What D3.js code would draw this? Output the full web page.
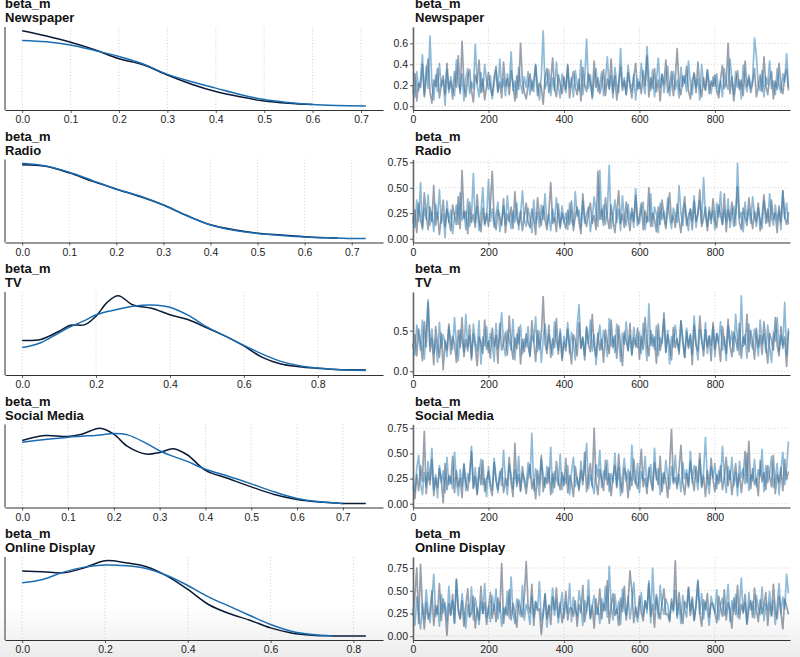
<!DOCTYPE html>
<html>
<head>
<meta charset="utf-8">
<script src="https://cdn.jsdelivr.net/npm/d3@7"></script>
<style>
  body { margin: 0; background: #fff; }
  svg { display: block; font-family: "Liberation Sans", Arial, Helvetica, sans-serif; }
</style>
</head>
<body>
<svg id="chart" width="800" height="657"></svg>
<script>
// --- Data ---

const varName = "beta_m";
const channels = ["Newspaper", "Radio", "TV", "Social Media", "Online Display"];

// KDE per chain (null = curve of that chain has ended)
const newspaperDensityX = [0, 0.05, 0.1, 0.15, 0.2, 0.25, 0.3, 0.35, 0.4, 0.45, 0.5, 0.55, 0.6, 0.65, 0.71];
const newspaperDensity0 = [3.29, 3.06, 2.79, 2.46, 2.07, 1.81, 1.36, 0.96, 0.64, 0.41, 0.23, 0.13, 0.07, null, null];
const newspaperDensity1 = [2.87, 2.81, 2.67, 2.43, 2.17, 1.84, 1.39, 1.07, 0.79, 0.51, 0.29, 0.16, 0.07, 0.03, 0.01];

const radioDensityX = [0, 0.05, 0.1, 0.15, 0.2, 0.25, 0.3, 0.35, 0.4, 0.45, 0.5, 0.55, 0.6, 0.65, 0.67, 0.7, 0.73];
const radioDensity0 = [3.23, 3.16, 2.87, 2.50, 2.16, 1.84, 1.47, 1.01, 0.61, 0.39, 0.24, 0.16, 0.09, 0.04, 0.03, null, null];
const radioDensity1 = [3.29, 3.17, 2.90, 2.53, 2.17, 1.86, 1.47, 1.00, 0.60, 0.37, 0.23, 0.14, 0.07, 0.04, 0.03, 0.01, 0.01];

const tvDensityX = [0, 0.05, 0.1, 0.13, 0.17, 0.2, 0.23, 0.26, 0.3, 0.35, 0.4, 0.45, 0.5, 0.55, 0.6, 0.65, 0.7, 0.75, 0.8, 0.85, 0.93];
const tvDensity0 = [0.94, 0.97, 1.22, 1.40, 1.42, 1.68, 2.10, 2.30, 2.02, 1.92, 1.72, 1.57, 1.32, 1.07, 0.77, 0.42, 0.22, 0.14, 0.09, 0.05, 0.04];
const tvDensity1 = [0.72, 0.87, 1.17, 1.35, 1.55, 1.72, 1.82, 1.89, 1.98, 2.02, 1.95, 1.70, 1.35, 1.07, 0.79, 0.52, 0.30, 0.17, 0.10, 0.05, 0.02];

const socialDensityX = [0, 0.05, 0.1, 0.13, 0.17, 0.2, 0.23, 0.27, 0.3, 0.33, 0.36, 0.4, 0.45, 0.5, 0.55, 0.6, 0.65, 0.7, 0.75];
const socialDensity0 = [1.91, 2.06, 2.03, 2.10, 2.28, 2.10, 1.73, 1.50, 1.55, 1.66, 1.48, 1.01, 0.76, 0.51, 0.28, 0.13, 0.05, 0.01, 0.01];
const socialDensity1 = [1.86, 1.94, 2.01, 2.04, 2.08, 2.12, 2.08, 1.83, 1.60, 1.43, 1.28, 1.04, 0.83, 0.60, 0.36, 0.16, 0.06, 0.01, null];

const onlineDensityX = [0, 0.05, 0.1, 0.15, 0.2, 0.25, 0.3, 0.35, 0.4, 0.45, 0.5, 0.55, 0.6, 0.65, 0.7, 0.75, 0.8, 0.83];
const onlineDensity0 = [1.95, 1.93, 1.90, 2.05, 2.26, 2.20, 2.08, 1.80, 1.40, 0.95, 0.68, 0.48, 0.25, 0.10, 0.03, 0.01, 0.01, 0.01];
const onlineDensity1 = [1.60, 1.70, 1.92, 2.07, 2.13, 2.11, 2.03, 1.82, 1.52, 1.18, 0.90, 0.62, 0.35, 0.15, 0.05, 0.01, null, null];

// Traces: every 5th draw of 1000, two chains
const drawStep = 5;
const nDraws = 1000;

const newspaperTrace0 = [
  0.12,0.31,0.05,0.22,0.18,0.40,0.09,0.27,0.45,0.14,0.03,0.25,0.19,0.36,0.08,0.21,0.29,0.11,0.41,0.16,
  0.24,0.07,0.33,0.18,0.48,0.12,0.62,0.20,0.09,0.27,0.35,0.15,0.04,0.30,0.22,0.44,0.13,0.26,0.06,0.19,
  0.32,0.17,0.10,0.28,0.38,0.14,0.23,0.08,0.42,0.19,0.26,0.11,0.34,0.21,0.05,0.29,0.16,0.60,0.24,0.13,
  0.07,0.20,0.31,0.15,0.25,0.39,0.10,0.22,0.18,0.02,0.27,0.36,0.13,0.23,0.46,0.17,0.09,0.30,0.21,0.12,
  0.28,0.16,0.40,0.08,0.24,0.33,0.19,0.11,0.26,0.05,0.37,0.20,0.14,0.31,0.23,0.09,0.43,0.18,0.27,0.12,
  0.21,0.35,0.10,0.26,0.17,0.45,0.13,0.29,0.06,0.22,0.38,0.15,0.24,0.11,0.32,0.19,0.08,0.28,0.41,0.16,
  0.23,0.12,0.34,0.20,0.48,0.09,0.27,0.17,0.36,0.14,0.25,0.05,0.30,0.21,0.44,0.13,0.19,0.33,0.10,0.26,
  0.55,0.18,0.11,0.29,0.22,0.38,0.15,0.07,0.25,0.31,0.13,0.42,0.20,0.09,0.27,0.16,0.35,0.12,0.24,0.19,
  0.30,0.14,0.08,0.26,0.39,0.17,0.22,0.60,0.12,0.28,0.05,0.21,0.34,0.16,0.25,0.10,0.43,0.19,0.27,0.13,
  0.22,0.36,0.09,0.18,0.30,0.14,0.47,0.20,0.11,0.26,0.33,0.07,0.24,0.16,0.41,0.19,0.12,0.29,0.35,0.15
];
const newspaperTrace1 = [
  0.20,0.09,0.33,0.15,0.26,0.49,0.11,0.38,0.17,0.67,0.22,0.06,0.30,0.14,0.41,0.19,0.25,0.01,0.35,0.13,
  0.28,0.18,0.10,0.44,0.21,0.15,0.31,0.05,0.27,0.36,0.12,0.23,0.17,0.59,0.20,0.09,0.32,0.14,0.40,0.24,
  0.16,0.29,0.07,0.22,0.34,0.13,0.45,0.18,0.26,0.10,0.31,0.19,0.52,0.15,0.24,0.08,0.37,0.21,0.12,0.28,
  0.18,0.33,0.11,0.25,0.14,0.40,0.20,0.06,0.29,0.72,0.17,0.23,0.35,0.10,0.27,0.15,0.42,0.19,0.08,0.31,
  0.22,0.13,0.38,0.18,0.27,0.09,0.34,0.21,0.15,0.44,0.11,0.26,0.64,0.17,0.30,0.07,0.24,0.36,0.14,0.20,
  0.33,0.10,0.25,0.47,0.16,0.29,0.08,0.37,0.21,0.13,0.55,0.19,0.27,0.11,0.39,0.23,0.15,0.30,0.06,0.26,
  0.17,0.41,0.22,0.12,0.57,0.28,0.15,0.35,0.09,0.24,0.46,0.18,0.31,0.13,0.26,0.38,0.10,0.21,0.33,0.16,
  0.25,0.08,0.37,0.19,0.29,0.14,0.43,0.22,0.11,0.32,0.18,0.26,0.06,0.40,0.20,0.15,0.34,0.23,0.12,0.28,
  0.19,0.31,0.13,0.24,0.09,0.36,0.21,0.16,0.45,0.27,0.11,0.33,0.18,0.25,0.07,0.39,0.22,0.14,0.30,0.17,
  0.26,0.65,0.48,0.20,0.15,0.34,0.09,0.28,0.21,0.43,0.17,0.24,0.11,0.36,0.19,0.13,0.31,0.23,0.50,0.18
];

const radioTrace0 = [
  0.15,0.28,0.06,0.35,0.19,0.11,0.45,0.24,0.09,0.31,0.17,0.52,0.13,0.26,0.04,0.21,0.38,0.12,0.29,0.18,
  0.08,0.33,0.22,0.14,0.41,0.10,0.67,0.20,0.27,0.05,0.36,0.16,0.24,0.11,0.43,0.19,0.07,0.30,0.15,0.25,
  0.12,0.34,0.66,0.18,0.09,0.28,0.21,0.13,0.39,0.06,0.24,0.17,0.31,0.10,0.46,0.20,0.14,0.27,0.08,0.22,
  0.35,0.16,0.11,0.29,0.19,0.04,0.40,0.23,0.13,0.32,0.18,0.09,0.26,0.55,0.15,0.21,0.07,0.34,0.12,0.25,
  0.17,0.10,0.28,0.14,0.37,0.08,0.22,0.31,0.16,0.05,0.44,0.20,0.12,0.27,0.35,0.15,0.23,0.09,0.66,0.19,
  0.29,0.13,0.40,0.21,0.10,0.33,0.18,0.06,0.26,0.47,0.15,0.24,0.11,0.36,0.20,0.08,0.30,0.17,0.42,0.13,
  0.22,0.35,0.09,0.27,0.16,0.50,0.12,0.25,0.19,0.07,0.31,0.14,0.38,0.21,0.10,0.28,0.45,0.16,0.23,0.11,
  0.34,0.18,0.06,0.26,0.41,0.13,0.22,0.29,0.09,0.37,0.17,0.24,0.48,0.12,0.20,0.31,0.08,0.27,0.15,0.39,
  0.19,0.11,0.33,0.23,0.14,0.44,0.07,0.28,0.18,0.36,0.12,0.25,0.51,0.16,0.09,0.30,0.21,0.13,0.40,0.24,
  0.10,0.27,0.17,0.35,0.08,0.22,0.43,0.15,0.29,0.12,0.38,0.19,0.25,0.06,0.32,0.16,0.47,0.21,0.14,0.26
];
const radioTrace1 = [
  0.22,0.11,0.38,0.17,0.55,0.09,0.30,0.19,0.43,0.13,0.26,0.07,0.34,0.20,0.48,0.15,0.24,0.01,0.37,0.16,
  0.28,0.05,0.21,0.33,0.14,0.45,0.18,0.27,0.09,0.39,0.12,0.23,0.64,0.16,0.31,0.08,0.25,0.50,0.13,0.20,
  0.58,0.17,0.29,0.11,0.24,0.36,0.07,0.19,0.32,0.14,0.42,0.21,0.10,0.27,0.16,0.35,0.09,0.23,0.47,0.18,
  0.12,0.30,0.20,0.06,0.38,0.15,0.26,0.11,0.33,0.19,0.44,0.14,0.24,0.08,0.29,0.17,0.40,0.21,0.10,0.32,
  0.16,0.25,0.09,0.35,0.18,0.13,0.46,0.22,0.28,0.11,0.37,0.15,0.24,0.31,0.07,0.20,0.41,0.26,0.12,0.67,
  0.19,0.33,0.14,0.27,0.72,0.10,0.23,0.38,0.16,0.29,0.08,0.42,0.21,0.13,0.34,0.18,0.26,0.11,0.49,0.20,
  0.15,0.28,0.36,0.09,0.22,0.17,0.44,0.12,0.31,0.24,0.06,0.35,0.19,0.27,0.14,0.40,0.21,0.10,0.30,0.23,
  0.16,0.52,0.25,0.13,0.34,0.20,0.08,0.29,0.18,0.42,0.11,0.26,0.37,0.15,0.60,0.22,0.12,0.31,0.19,0.27,
  0.09,0.35,0.21,0.46,0.14,0.28,0.17,0.39,0.11,0.24,0.32,0.13,0.74,0.20,0.26,0.07,0.36,0.18,0.29,0.15,
  0.41,0.23,0.12,0.30,0.19,0.10,0.37,0.25,0.16,0.44,0.21,0.13,0.33,0.18,0.27,0.09,0.47,0.20,0.35,0.14
];

const tvTrace0 = [
  0.28,0.45,0.19,0.52,0.36,0.13,0.61,0.30,0.85,0.24,0.41,0.08,0.55,0.33,0.17,0.47,0.02,0.38,0.26,0.58,
  0.21,0.43,0.34,0.11,0.50,0.29,0.66,0.18,0.39,0.25,0.57,0.14,0.46,0.31,0.07,0.42,0.35,0.22,0.63,0.27,
  0.37,0.16,0.53,0.30,0.44,0.10,0.59,0.26,0.35,0.48,0.20,0.68,0.33,0.15,0.41,0.28,0.54,0.09,0.39,0.24,
  0.46,0.31,0.19,0.62,0.37,0.12,0.50,0.27,0.43,0.92,0.34,0.22,0.57,0.17,0.40,0.29,0.65,0.21,0.48,0.13,
  0.36,0.25,0.52,0.30,0.09,0.45,0.38,0.19,0.60,0.28,0.42,0.14,0.55,0.33,0.24,0.70,0.31,0.18,0.47,0.26,
  0.39,0.11,0.51,0.34,0.22,0.63,0.29,0.44,0.16,0.56,0.32,0.07,0.48,0.37,0.25,0.59,0.20,0.41,0.30,0.53,
  0.15,0.43,0.27,0.66,0.35,0.19,0.50,0.31,0.42,0.10,0.58,0.26,0.37,0.72,0.23,0.45,0.33,0.14,0.54,0.29,
  0.40,0.21,0.62,0.35,0.17,0.49,0.28,0.44,0.08,0.57,0.32,0.25,0.68,0.38,0.19,0.51,0.30,0.43,0.13,0.60,
  0.27,0.46,0.34,0.12,0.55,0.37,0.22,0.64,0.31,0.18,0.48,0.39,0.26,0.59,0.16,0.42,0.33,0.70,0.24,0.50,
  0.36,0.15,0.53,0.29,0.44,0.21,0.61,0.34,0.10,0.47,0.38,0.26,0.66,0.32,0.19,0.55,0.28,0.42,0.06,0.49
];
const tvTrace1 = [
  0.34,0.20,0.57,0.41,0.26,0.63,0.15,0.48,0.88,0.31,0.52,0.22,0.39,0.11,0.60,0.29,0.45,0.35,0.18,0.54,
  0.40,0.27,0.66,0.33,0.13,0.51,0.37,0.24,0.70,0.30,0.44,0.17,0.58,0.36,0.25,0.62,0.09,0.42,0.31,0.55,
  0.23,0.47,0.35,0.12,0.59,0.28,0.43,0.72,0.32,0.19,0.50,0.38,0.26,0.64,0.14,0.46,0.34,0.57,0.21,0.40,
  0.30,0.55,0.18,0.44,0.36,0.67,0.24,0.49,0.11,0.39,0.58,0.27,0.45,0.33,0.20,0.61,0.37,0.26,0.52,0.16,
  0.43,0.31,0.60,0.22,0.48,0.35,0.14,0.56,0.82,0.29,0.41,0.19,0.53,0.34,0.63,0.25,0.45,0.08,0.38,0.57,
  0.27,0.50,0.36,0.18,0.65,0.31,0.42,0.23,0.58,0.37,0.12,0.47,0.33,0.61,0.26,0.44,0.20,0.54,0.35,0.29,
  0.48,0.22,0.59,0.38,0.13,0.83,0.32,0.45,0.27,0.56,0.19,0.41,0.35,0.64,0.24,0.50,0.09,0.43,0.30,0.57,
  0.36,0.25,0.62,0.40,0.17,0.53,0.31,0.46,0.21,0.68,0.34,0.14,0.51,0.39,0.27,0.60,0.22,0.44,0.32,0.55,
  0.18,0.47,0.35,0.61,0.26,0.42,0.13,0.56,0.33,0.49,0.24,0.70,0.38,0.20,0.93,0.31,0.45,0.16,0.58,0.36,
  0.28,0.52,0.41,0.19,0.63,0.34,0.46,0.23,0.57,0.30,0.11,0.48,0.37,0.66,0.25,0.44,0.32,0.85,0.20,0.53
];

const socialTrace0 = [
  0.18,0.05,0.29,0.13,0.38,0.22,0.72,0.10,0.31,0.19,0.44,0.08,0.26,0.16,0.35,0.24,0.01,0.40,0.14,0.28,
  0.20,0.47,0.11,0.33,0.17,0.25,0.06,0.39,0.21,0.13,0.30,0.52,0.15,0.27,0.09,0.36,0.19,0.43,0.12,0.24,
  0.32,0.16,0.08,0.41,0.23,0.14,0.28,0.35,0.11,0.25,0.18,0.46,0.21,0.07,0.60,0.17,0.29,0.13,0.37,0.22,
  0.10,0.27,0.39,0.15,0.24,0.05,0.33,0.19,0.48,0.12,0.26,0.20,0.36,0.09,0.30,0.16,0.42,0.23,0.14,0.31,
  0.18,0.45,0.11,0.28,0.21,0.07,0.37,0.25,0.15,0.33,0.19,0.51,0.12,0.27,0.40,0.17,0.75,0.22,0.09,0.34,
  0.24,0.13,0.43,0.19,0.30,0.08,0.26,0.38,0.16,0.49,0.21,0.11,0.35,0.28,0.06,0.32,0.18,0.44,0.23,0.15,
  0.29,0.54,0.17,0.25,0.10,0.36,0.22,0.14,0.41,0.27,0.19,0.47,0.12,0.31,0.23,0.06,0.38,0.74,0.20,0.26,
  0.15,0.34,0.58,0.21,0.09,0.30,0.18,0.42,0.25,0.13,0.37,0.22,0.50,0.16,0.28,0.07,0.33,0.19,0.45,0.24,
  0.12,0.29,0.20,0.38,0.14,0.26,0.46,0.18,0.33,0.09,0.24,0.40,0.17,0.30,0.11,0.27,0.52,0.21,0.62,0.15,
  0.35,0.19,0.25,0.08,0.43,0.22,0.31,0.14,0.38,0.27,0.17,0.48,0.10,0.29,0.21,0.36,0.13,0.44,0.24,0.32
];
const socialTrace1 = [
  0.26,0.12,0.35,0.48,0.20,0.09,0.31,0.17,0.42,0.24,0.55,0.14,0.29,0.06,0.38,0.21,0.33,0.11,0.46,0.19,
  0.27,0.15,0.51,0.23,0.08,0.34,0.18,0.40,0.13,0.30,0.22,0.57,0.16,0.36,0.10,0.28,0.44,0.19,0.25,0.07,
  0.37,0.21,0.14,0.45,0.26,0.11,0.32,0.18,0.53,0.23,0.09,0.39,0.28,0.15,0.34,0.20,0.47,0.12,0.30,0.24,
  0.17,0.41,0.26,0.70,0.13,0.35,0.22,0.08,0.44,0.29,0.16,0.37,0.21,0.56,0.11,0.32,0.25,0.18,0.49,0.14,
  0.28,0.20,0.38,0.09,0.31,0.46,0.17,0.26,0.13,0.42,0.23,0.35,0.60,0.15,0.29,0.19,0.10,0.39,0.27,0.53,
  0.16,0.33,0.24,0.43,0.12,0.30,0.21,0.50,0.18,0.36,0.08,0.27,0.45,0.22,0.34,0.14,0.58,0.25,0.19,0.40,
  0.11,0.32,0.23,0.47,0.17,0.28,0.39,0.13,0.55,0.24,0.35,0.09,0.30,0.20,0.43,0.26,0.15,0.37,0.22,0.48,
  0.19,0.29,0.12,0.41,0.25,0.34,0.16,0.52,0.21,0.38,0.27,0.14,0.44,0.18,0.31,0.66,0.23,0.10,0.36,0.26,
  0.40,0.15,0.33,0.22,0.57,0.28,0.11,0.37,0.24,0.46,0.18,0.31,0.08,0.42,0.26,0.35,0.20,0.50,0.13,0.29,
  0.23,0.44,0.17,0.34,0.27,0.54,0.12,0.38,0.21,0.30,0.47,0.16,0.25,0.40,0.09,0.33,0.51,0.19,0.36,0.62
];

const onlineTrace0 = [
  0.22,0.45,0.75,0.14,0.79,0.31,0.08,0.37,0.19,0.27,0.50,0.12,0.34,0.24,0.58,0.17,0.41,0.29,0.01,0.36,
  0.23,0.46,0.15,0.62,0.28,0.19,0.39,0.11,0.33,0.52,0.21,0.26,0.44,0.09,0.31,0.18,0.55,0.25,0.37,0.13,
  0.29,0.48,0.20,0.35,0.16,0.42,0.27,0.80,0.14,0.32,0.23,0.51,0.18,0.36,0.25,0.10,0.40,0.30,0.21,0.45,
  0.82,0.33,0.26,0.57,0.12,0.38,0.28,0.30,0.02,0.24,0.47,0.19,0.34,0.13,0.43,0.29,0.53,0.21,0.37,0.15,
  0.27,0.49,0.18,0.31,0.31,0.22,0.39,0.11,0.35,0.26,0.56,0.16,0.30,0.44,0.20,0.34,0.09,0.41,0.24,0.52,
  0.19,0.36,0.28,0.61,0.14,0.33,0.47,0.23,0.30,0.12,0.42,0.27,0.55,0.18,0.38,0.72,0.49,0.15,0.32,0.21,
  0.44,0.26,0.17,0.39,0.30,0.58,0.22,0.35,0.10,0.46,0.28,0.19,0.37,0.52,0.24,0.24,0.16,0.41,0.29,0.83,
  0.20,0.48,0.27,0.14,0.38,0.31,0.54,0.23,0.43,0.18,0.34,0.60,0.25,0.11,0.40,0.29,0.47,0.21,0.36,0.36,
  0.26,0.15,0.44,0.32,0.22,0.51,0.18,0.37,0.28,0.09,0.42,0.24,0.56,0.19,0.35,0.27,0.46,0.13,0.31,0.39,
  0.21,0.53,0.29,0.16,0.40,0.25,0.34,0.48,0.12,0.37,0.23,0.57,0.30,0.19,0.44,0.26,0.08,0.41,0.33,0.24
];
const onlineTrace1 = [
  0.30,0.12,0.43,0.25,0.08,0.36,0.19,0.51,0.28,0.15,0.40,0.68,0.22,0.33,0.11,0.46,0.26,0.37,0.17,0.55,
  0.24,0.39,0.14,0.63,0.31,0.20,0.47,0.27,0.09,0.35,0.22,0.54,0.18,0.42,0.29,0.13,0.38,0.25,0.58,0.21,
  0.33,0.16,0.45,0.28,0.52,0.19,0.37,0.11,0.31,0.24,0.49,0.20,0.65,0.26,0.14,0.41,0.30,0.22,0.56,0.18,
  0.35,0.27,0.13,0.44,0.21,0.38,0.30,0.60,0.17,0.25,0.46,0.10,0.34,0.28,0.53,0.23,0.40,0.15,0.32,0.48,
  0.20,0.37,0.26,0.58,0.16,0.43,0.29,0.22,0.50,0.35,0.12,0.39,0.27,0.62,0.19,0.33,0.45,0.24,0.31,0.14,
  0.41,0.28,0.55,0.21,0.77,0.34,0.18,0.46,0.25,0.38,0.13,0.52,0.30,0.23,0.44,0.19,0.36,0.59,0.27,0.16,
  0.32,0.48,0.22,0.39,0.26,0.61,0.15,0.75,0.29,0.43,0.20,0.56,0.33,0.24,0.41,0.35,0.18,0.37,0.27,0.50,
  0.23,0.36,0.14,0.45,0.30,0.21,0.53,0.27,0.40,0.17,0.34,0.62,0.25,0.47,0.19,0.38,0.28,0.12,0.44,0.32,
  0.26,0.51,0.18,0.35,0.42,0.23,0.30,0.57,0.16,0.39,0.27,0.46,0.21,0.33,0.64,0.25,0.37,0.14,0.48,0.29,
  0.38,0.20,0.45,0.31,0.24,0.54,0.17,0.36,0.28,0.49,0.22,0.40,0.13,0.34,0.58,0.26,0.43,0.30,0.68,0.47
];

// Tick values
const densityTicks7 = [0, 0.1, 0.2, 0.3, 0.4, 0.5, 0.6, 0.7];
const densityTicks8 = [0, 0.2, 0.4, 0.6, 0.8];
const traceXTicks = [0, 200, 400, 600, 800];
const newspaperYTicks = [0, 0.2, 0.4, 0.6];
const quarterYTicks = [0, 0.25, 0.5, 0.75];
const tvYTicks = [0, 0.5];

// --- Panels ---

const panels = [
  { name: channels[0], dx: newspaperDensityX, d0: newspaperDensity0, d1: newspaperDensity1, t0: newspaperTrace0, t1: newspaperTrace1, kTicks: densityTicks7, yTicks: newspaperYTicks, yFmt: ".1f" },
  { name: channels[1], dx: radioDensityX, d0: radioDensity0, d1: radioDensity1, t0: radioTrace0, t1: radioTrace1, kTicks: densityTicks7, yTicks: quarterYTicks, yFmt: ".2f" },
  { name: channels[2], dx: tvDensityX, d0: tvDensity0, d1: tvDensity1, t0: tvTrace0, t1: tvTrace1, kTicks: densityTicks8, yTicks: tvYTicks, yFmt: ".1f" },
  { name: channels[3], dx: socialDensityX, d0: socialDensity0, d1: socialDensity1, t0: socialTrace0, t1: socialTrace1, kTicks: densityTicks7, yTicks: quarterYTicks, yFmt: ".2f" },
  { name: channels[4], dx: onlineDensityX, d0: onlineDensity0, d1: onlineDensity1, t0: onlineTrace0, t1: onlineTrace1, kTicks: densityTicks8, yTicks: quarterYTicks, yFmt: ".2f" }
];

const chainKde = ["#0a1a36", "#1a6cb2"];
const chainTrace = [{ c: "#0b1f3a", o: 0.42 }, { c: "#1f77b4", o: 0.5 }];

const W = 800, H = 657;
const rowTop0 = 27, rowStep = 132.5, rowH = 83;
const leftX = [5, 383], rightX = [413, 790];

const svg = d3.select("#chart");

// faint shading along the bottom of the screenshot
const grad = svg.append("defs").append("linearGradient")
  .attr("id", "fade").attr("x1", 0).attr("x2", 0).attr("y1", 0).attr("y2", 1);
grad.append("stop").attr("offset", "0%").attr("stop-color", "#ffffff");
grad.append("stop").attr("offset", "100%").attr("stop-color", "#ececec");
svg.append("rect").attr("x", 0).attr("y", 605).attr("width", W).attr("height", H - 605).attr("fill", "url(#fade)");

const pad = ([a, b]) => { const d = (b - a) * 0.05; return [a - d, b + d]; };

function styleAxis(g) {
  g.selectAll("text").attr("font-size", 10.5).attr("fill", "#222")
    .attr("font-family", "'Liberation Sans', Arial, sans-serif");
  g.selectAll(".tick line").attr("stroke", "#333").attr("stroke-width", 0.8);
}

function grid(g, vals, place) {
  g.selectAll(null).data(vals).enter().append("line")
    .each(function (d) { place(d3.select(this), d); })
    .attr("stroke", "#cdcdcd").attr("stroke-width", 0.8).attr("stroke-dasharray", "1.2,2");
}

panels.forEach((p, i) => {
  const top = rowTop0 + i * rowStep, bottom = top + rowH;

  // titles (first row sits right at the top edge, as in the screenshot)
  [leftX[0], rightX[0] + 2].forEach(x0 => {
    const t = svg.append("text").attr("x", x0).attr("font-size", 13).attr("font-weight", "bold").attr("fill", "#111");
    t.append("tspan").attr("x", x0).attr("y", top - 19).text(varName);
    t.append("tspan").attr("x", x0).attr("y", top - 5).text(p.name);
  });

  // ---- KDE panel ----
  const kx = d3.scaleLinear().domain(pad(d3.extent(p.dx))).range(leftX);
  const ymax = d3.max(p.d0.concat(p.d1).filter(v => v != null));
  const ky = d3.scaleLinear().domain(pad([0, ymax])).range([bottom, top]);

  const kg = svg.append("g");
  grid(kg, p.kTicks, (ln, d) => ln.attr("x1", kx(d)).attr("x2", kx(d)).attr("y1", top).attr("y2", bottom));

  [p.d0, p.d1].forEach((dens, c) => {
    const line = d3.line()
      .defined((d, j) => dens[j] != null)
      .x((d, j) => kx(p.dx[j]))
      .y((d, j) => ky(dens[j]))
      .curve(d3.curveCatmullRom.alpha(0.5));
    kg.append("path").attr("d", line(dens)).attr("fill", "none")
      .attr("stroke", chainKde[c]).attr("stroke-width", 1.5);
  });

  const kAxis = kg.append("g").attr("transform", `translate(0,${bottom})`)
    .call(d3.axisBottom(kx).tickValues(p.kTicks).tickFormat(d3.format(".1f")).tickSize(3).tickSizeOuter(0).tickPadding(3));
  kAxis.select(".domain").attr("stroke", "#333").attr("stroke-width", 1.1);
  styleAxis(kAxis);
  kg.append("line").attr("x1", leftX[0]).attr("x2", leftX[0]).attr("y1", top).attr("y2", bottom)
    .attr("stroke", "#8a8a8a").attr("stroke-width", 1.8);

  // ---- trace panel ----
  const tx = d3.scaleLinear().domain([0, nDraws - 1]).range(rightX);
  const tmax = d3.max(p.t0.concat(p.t1));
  const ty = d3.scaleLinear().domain(pad([0, tmax])).range([bottom, top]);

  const tg = svg.append("g");
  grid(tg, traceXTicks, (ln, d) => ln.attr("x1", tx(d)).attr("x2", tx(d)).attr("y1", top).attr("y2", bottom));
  grid(tg, p.yTicks, (ln, d) => ln.attr("x1", rightX[0]).attr("x2", rightX[1]).attr("y1", ty(d)).attr("y2", ty(d)));

  [p.t0, p.t1].forEach((vals, c) => {
    const line = d3.line().x((d, j) => tx(j * drawStep)).y(d => ty(d));
    tg.append("path").attr("d", line(vals)).attr("fill", "none")
      .attr("stroke", chainTrace[c].c).attr("stroke-opacity", chainTrace[c].o)
      .attr("stroke-width", 1.7).attr("stroke-linejoin", "round");
  });

  const txAxis = tg.append("g").attr("transform", `translate(0,${bottom})`)
    .call(d3.axisBottom(tx).tickValues(traceXTicks).tickFormat(d3.format("d")).tickSize(3).tickSizeOuter(0).tickPadding(3));
  txAxis.select(".domain").attr("stroke", "#333").attr("stroke-width", 1.1);
  styleAxis(txAxis);

  const tyAxis = tg.append("g").attr("transform", `translate(${rightX[0]},0)`)
    .call(d3.axisLeft(ty).tickValues(p.yTicks).tickFormat(d3.format(p.yFmt)).tickSize(3).tickSizeOuter(0).tickPadding(2));
  tyAxis.select(".domain").attr("stroke", "#666").attr("stroke-width", 1.6);
  styleAxis(tyAxis);
});
</script>
</body>
</html>
